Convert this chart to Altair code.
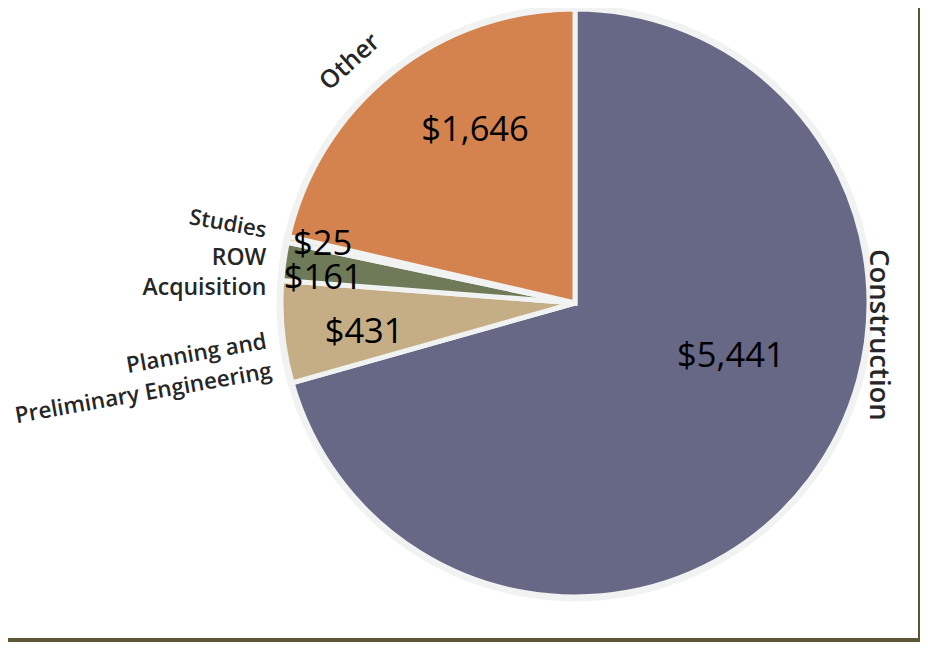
import altair as alt
import pandas as pd

categories = ["Construction", "Planning and Preliminary Engineering", "ROW Acquisition", "Studies", "Other"]
values = [5441, 431, 161, 25, 1646]
colors = ["#676786", "#C5AE86", "#6E7A58", "#E8C160", "#D4834F"]
names = ["Construction", "Planning and\nPreliminary Engineering", "ROW\nAcquisition", "Studies", "Other"]

df = pd.DataFrame({
    "cat": categories,
    "value": values,
    "idx": list(range(len(categories))),
    "name": names,
})
df["label"] = ["$" + format(v, ",") for v in values]

FONT = "Open Sans"
RING = "#F1F2F2"

base = alt.Chart(df)
theta = alt.Theta("value:Q", stack=True)
order = alt.Order("idx:Q")

ring = base.mark_arc(radius=298, color=RING, stroke=RING, strokeWidth=1).encode(
    theta=theta, order=order
)
slices = base.mark_arc(radius=294, stroke=RING, strokeWidth=5).encode(
    theta=theta,
    order=order,
    color=alt.Color("cat:N", scale=alt.Scale(domain=categories, range=colors), legend=None),
)

# value labels: (radius, thetaOffset)
val_style = {
    "Construction": (165, -0.314),
    "Other": (199, 0.145),
    "Planning and Preliminary Engineering": (213, -0.042),
    "ROW Acquisition": (253, -0.047),
    "Studies": (259, 0.007),
}
layers = [ring, slices]
for cat, (r, off) in val_style.items():
    layers.append(
        base.transform_calculate(t=f"datum.cat == '{cat}' ? datum.label : ''")
        .mark_text(radius=r, thetaOffset=off, font=FONT, fontSize=34.5, fontWeight=500,
                   color="#000000")
        .encode(theta=theta, order=order, text="t:N")
    )

# category labels: (radius, thetaOffset, angle, align, size)
name_style = {
    "Construction": (305, -0.543, 90, "center", 27.5),
    "Other": (330, -0.080, 318, "center", 25),
    "Studies": (356, 0.006, 10, "center", 22),
    "ROW Acquisition": (312, 0.003, 0, "right", 23),
    "Planning and Preliminary Engineering": (311, -0.025, 350, "right", 22.5),
}
for cat, (r, off, ang, al, fs) in name_style.items():
    layers.append(
        base.transform_calculate(t=f"datum.cat == '{cat}' ? datum.name : ''")
        .mark_text(radius=r, thetaOffset=off, angle=ang, align=al, baseline="middle",
                   lineBreak="\n", lineHeight=30, font=FONT, fontSize=fs,
                   fontWeight=600, color="#262626")
        .encode(theta=theta, order=order, text="t:N")
    )

one = alt.Chart(pd.DataFrame({"a": [0]}))
border_col = "#5E5535"
bottom = one.mark_rule(color=border_col, strokeWidth=4).encode(
    x=alt.value(-272), x2=alt.value(640), y=alt.value(632)
)
right = one.mark_rule(color=border_col, strokeWidth=2).encode(
    x=alt.value(639), y=alt.value(-8), y2=alt.value(634)
)
layers += [bottom, right]

chart = alt.layer(*layers).properties(
    width=590, height=590,
    padding={"left": 272, "top": 0, "right": 50, "bottom": 44},
    autosize="none",
).configure_view(stroke=None)

chart.save("out.html", embed_options={"renderer": "svg", "actions": False})
